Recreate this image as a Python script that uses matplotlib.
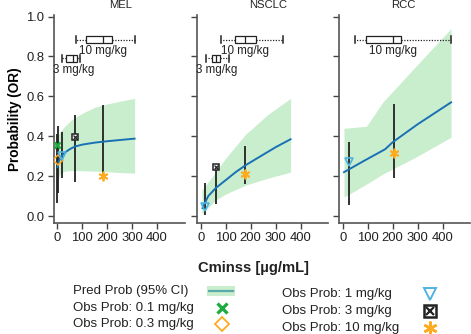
import matplotlib
matplotlib.use("Agg")
import matplotlib.pyplot as plt
from matplotlib.lines import Line2D
from matplotlib.patches import Rectangle

plt.rcParams['font.family'] = ['Liberation Sans', 'DejaVu Sans']

# ---------------- data ----------------
panels = ["MEL", "NSCLC", "RCC"]

# predicted probability curves
mel_cx = [1, 5, 15, 28, 50, 70, 100, 150, 200, 250, 310]
mel_cy = [0.245, 0.27, 0.298, 0.316, 0.335, 0.348, 0.358, 0.368, 0.375, 0.381, 0.388]
mel_bx = [1, 10, 30, 60, 100, 150, 200, 250, 310]
mel_lo = [0.17, 0.21, 0.225, 0.228, 0.227, 0.225, 0.222, 0.218, 0.215]
mel_hi = [0.40, 0.42, 0.45, 0.485, 0.515, 0.545, 0.562, 0.575, 0.59]

nsclc_cx = [7, 30, 60, 100, 140, 180, 240, 300, 360]
nsclc_cy = [0.04, 0.10, 0.14, 0.18, 0.22, 0.255, 0.30, 0.345, 0.385]
nsclc_bx = [5, 60, 100, 180, 270, 360]
nsclc_lo = [0.01, 0.08, 0.11, 0.155, 0.19, 0.22]
nsclc_hi = [0.13, 0.22, 0.29, 0.41, 0.51, 0.59]

rcc_cx = [5, 90, 170, 200, 300, 434]
rcc_cy = [0.22, 0.28, 0.335, 0.37, 0.46, 0.57]
rcc_bx = [5, 95, 160, 300, 434]
rcc_lo = [0.095, 0.16, 0.21, 0.30, 0.395]
rcc_hi = [0.44, 0.45, 0.57, 0.76, 0.94]

# observed probabilities (dose, x, p, lower, upper)
mel_dose = ["0.1", "0.3", "1", "3", "10"]
mel_ox = [1, 4, 21, 72, 184]
mel_op = [0.358, 0.28, 0.30, 0.395, 0.20]
mel_olo = [0.065, 0.115, 0.19, 0.17, 0.19]
mel_ohi = [0.41, 0.45, 0.42, 0.505, 0.555]

nsclc_dose = ["1", "3", "10"]
nsclc_ox = [17, 63, 177]
nsclc_op = [0.044, 0.246, 0.21]
nsclc_olo = [0.005, 0.06, 0.16]
nsclc_ohi = [0.166, 0.25, 0.351]

rcc_dose = ["1", "10"]
rcc_ox = [25, 206]
rcc_op = [0.27, 0.315]
rcc_olo = [0.055, 0.19]
rcc_ohi = [0.372, 0.56]

# exposure box plots: (label, whislo, q1, med, q3, whishi, y-position)
mel_box = [("10 mg/kg", 76, 115, 184, 219, 312, 0.883),
           ("3 mg/kg", 20, 36, 64, 80, 92, 0.79)]
nsclc_box = [("10 mg/kg", 83, 136, 177, 221, 331, 0.883),
             ("3 mg/kg", 20, 47, 63, 76, 113, 0.79)]
rcc_box = [("10 mg/kg", 49, 94, 203, 234, 434, 0.883)]

title_x = [256, 272, 244]
x_ticks = [0, 100, 200, 300, 400]
y_ticks = [0.0, 0.2, 0.4, 0.6, 0.8, 1.0]

legend_left = ["Pred Prob (95% CI)", "Obs Prob: 0.1 mg/kg", "Obs Prob: 0.3 mg/kg"]
legend_right = ["Obs Prob: 1 mg/kg", "Obs Prob: 3 mg/kg", "Obs Prob: 10 mg/kg"]

# ---------------- styles ----------------
band_color = "#c9eecd"
line_color = "#1a70b5"
green = "#1aac3c"
orange = "#ffab1f"
lblue = "#4fb3e0"
dark = "#222222"

marker_style = {
    "0.1": dict(marker="x", color=green, ms=5, mew=1.8, mfc="none"),
    "0.3": dict(marker="D", color=orange, ms=5, mew=1.1, mfc="none"),
    "1": dict(marker="v", color=lblue, ms=6, mew=1.2, mfc="none"),
    "3": dict(marker="s", color=dark, ms=5, mew=1.1, mfc="white"),
    "10": dict(marker=(6, 2, 0), color=orange, ms=7, mew=1.3, mfc="none"),
}

TICK_FS = 9.4
fig = plt.figure(figsize=(4.71, 3.34), dpi=100)

W = 131 / 471
lefts = [53.5 / 471, 197 / 471, 339 / 471]
bottom = 1 - 223 / 334
height = (223 - 15) / 334

data = [
    (mel_cx, mel_cy, mel_bx, mel_lo, mel_hi, mel_dose, mel_ox, mel_op, mel_olo, mel_ohi, mel_box),
    (nsclc_cx, nsclc_cy, nsclc_bx, nsclc_lo, nsclc_hi, nsclc_dose, nsclc_ox, nsclc_op, nsclc_olo, nsclc_ohi, nsclc_box),
    (rcc_cx, rcc_cy, rcc_bx, rcc_lo, rcc_hi, rcc_dose, rcc_ox, rcc_op, rcc_olo, rcc_ohi, rcc_box),
]

for i, (name, d) in enumerate(zip(panels, data)):
    cx, cy, bx, lo, hi, dose, ox, op, olo, ohi, boxes = d
    ax = fig.add_axes([lefts[i], bottom, W, height])
    ax.fill_between(bx, lo, hi, color=band_color, lw=0, zorder=1)
    ax.vlines(ox, olo, ohi, color=dark, lw=1.3, zorder=2)
    ax.plot(cx, cy, color=line_color, lw=1.4, zorder=3)
    for dz, x, p in zip(dose, ox, op):
        st = marker_style[dz]
        ax.plot([x], [p], ls="none", marker=st["marker"], color=st["color"],
                ms=st["ms"], mew=st["mew"], mfc=st["mfc"], zorder=4)
        if dz == "3":
            ax.plot([x], [p], ls="none", marker="x", color=dark, ms=3, mew=0.9, zorder=5)
    stats = []
    pos = []
    for lab, wl, q1, med, q3, wh, yp in boxes:
        stats.append(dict(whislo=wl, q1=q1, med=med, q3=q3, whishi=wh, fliers=[]))
        pos.append(yp)
    ax.bxp(stats, positions=pos, widths=0.035, capwidths=0.035, vert=False,
           showfliers=False, patch_artist=True,
           boxprops=dict(facecolor="white", edgecolor=dark, lw=0.9),
           medianprops=dict(color=dark, lw=0.9),
           whiskerprops=dict(color=dark, lw=0.9, linestyle=(0, (1, 1.2))),
           capprops=dict(color=dark, lw=1.1), manage_ticks=False, zorder=3)
    for lab, wl, q1, med, q3, wh, yp in boxes:
        ax.text(med, yp - 0.026, lab, ha="center", va="top", fontsize=8.4, color=dark)

    ax.set_xlim(-15, 510)
    ax.set_ylim(-0.035, 1.008)
    ax.set_xticks(x_ticks)
    ax.set_yticks(y_ticks)
    if i == 0:
        ax.set_yticklabels([f"{v:.1f}" for v in y_ticks])
        ax.set_ylabel("Probability (OR)", fontsize=9.8, fontweight="bold", labelpad=3)
    else:
        ax.set_yticklabels([])
    ax.tick_params(labelsize=TICK_FS, length=4, width=1.0, color="#444444", labelcolor=dark, pad=2.5)
    for s in ["top", "right"]:
        ax.spines[s].set_visible(False)
    for s in ["left", "bottom"]:
        ax.spines[s].set_color("#555555")
        ax.spines[s].set_linewidth(1.2)
    ax.text(title_x[i], 1.058, name, ha="center", va="center", fontsize=8.1, color=dark,
            transform=ax.transData, clip_on=False)

fig.text(254 / 471, 1 - 268 / 334, "Cminss [µg/mL]", ha="center", va="center",
         fontsize=10.6, fontweight="bold", color=dark)

# ---------------- legend (drawn in figure pixel space) ----------------
def fx(px):
    return px / 471

def fy(py):
    return 1 - py / 334

LEG_FS = 9.5
left_rows = [291, 308, 324]
right_rows = [294, 311, 328]
for lab, yy in zip(legend_left, left_rows):
    fig.text(fx(73), fy(yy), lab, ha="left", va="center", fontsize=LEG_FS, color=dark)
for lab, yy in zip(legend_right, right_rows):
    fig.text(fx(282), fy(yy), lab, ha="left", va="center", fontsize=LEG_FS, color=dark)

# Pred prob handle: band patch + line
fig.add_artist(Rectangle((fx(207), fy(left_rows[0] + 5)), fx(235) - fx(207), fy(left_rows[0] - 5) - fy(left_rows[0] + 5),
                         transform=fig.transFigure, facecolor=band_color, edgecolor="none"))
fig.add_artist(Line2D([fx(209), fx(233)], [fy(left_rows[0])] * 2, transform=fig.transFigure,
                      color="#5aa9a9", lw=1.6))
# marker handles
fig.add_artist(Line2D([fx(222)], [fy(left_rows[1])], transform=fig.transFigure, ls="none",
                      marker="x", color=green, ms=7, mew=2.3))
fig.add_artist(Line2D([fx(222)], [fy(left_rows[2])], transform=fig.transFigure, ls="none",
                      marker="D", color=orange, mfc="none", ms=7, mew=1.3))
fig.add_artist(Line2D([fx(430)], [fy(right_rows[0])], transform=fig.transFigure, ls="none",
                      marker="v", color=lblue, mfc="none", ms=9, mew=1.4))
fig.add_artist(Line2D([fx(430)], [fy(right_rows[1])], transform=fig.transFigure, ls="none",
                      marker="s", color=dark, mfc="white", ms=8, mew=1.8))
fig.add_artist(Line2D([fx(430)], [fy(right_rows[1])], transform=fig.transFigure, ls="none",
                      marker="x", color=dark, ms=5.5, mew=1.6))
fig.add_artist(Line2D([fx(430)], [fy(right_rows[2])], transform=fig.transFigure, ls="none",
                      marker=(6, 2, 0), color=orange, ms=10, mew=1.8))

fig.savefig("out.png", dpi=100)
